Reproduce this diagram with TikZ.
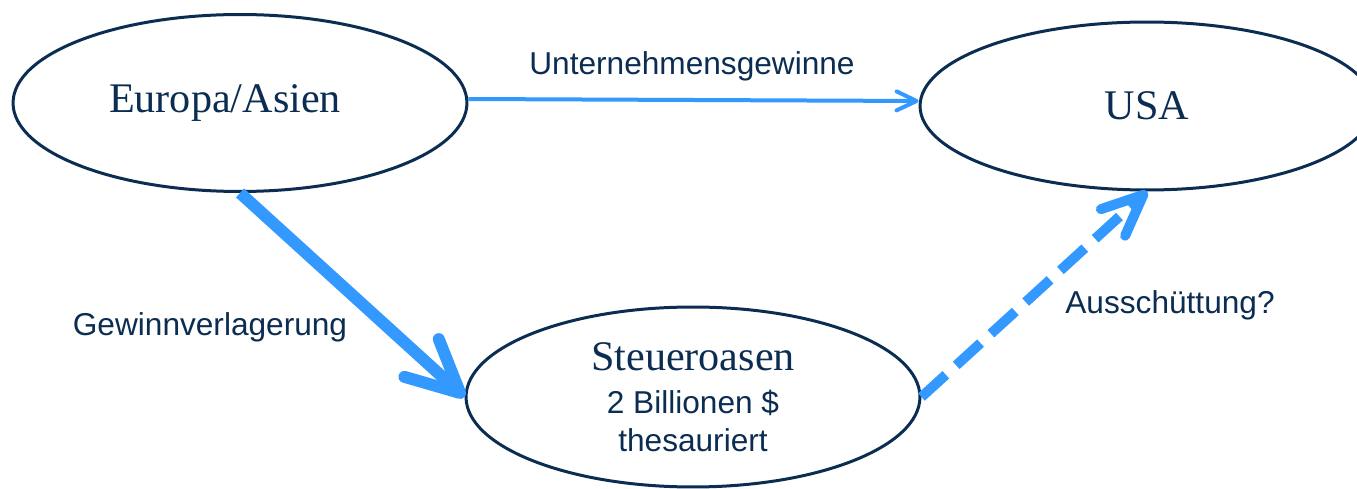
\documentclass[tikz,border=0pt]{standalone}
\usepackage{fontspec}
\setmainfont{Liberation Serif}
\setsansfont{Liberation Sans}
\usetikzlibrary{shapes.geometric,arrows.meta}

\definecolor{navy}{HTML}{0B2D52}
\definecolor{flowblue}{HTML}{3399FF}

\tikzset{
  region/.style={ellipse, draw=navy, line width=0.06cm, inner sep=0pt,
    minimum width=9.08cm, text=navy, font=\fontsize{24}{28}\selectfont},
  flowlabel/.style={text=navy, font=\sffamily\fontsize{18}{21.6}\selectfont},
  flow/.style={draw=flowblue}
}

\begin{document}
\begin{tikzpicture}[x=0.02cm, y=-0.02cm]
% page frame, same size as the original picture
\useasboundingbox (0,0) rectangle (1357,489);

% the three regions
\node[region, minimum height=3.54cm] (eu) at (240,103) {Europa/Asien\hspace*{0.6cm}};
\node[region, minimum height=3.36cm] (usa) at (1147,106) {USA};
\node[region, minimum height=3.6cm, align=center,
  font=\sffamily\fontsize{18}{21.6}\selectfont] (oase) at (693,397)
  {{\rmfamily\fontsize{24}{28}\selectfont Steueroasen}\\[3pt]
   2 Billionen \$\\
   thesauriert};

% flows between the regions
\draw[flow, line width=0.08cm, -{Straight Barb[length=0.4cm, width=0.38cm, round]}]
  ([yshift=0.08cm]eu.east) -- ([yshift=0.1cm]usa.west);
\draw[flow, line width=0.24cm, -{Straight Barb[length=1.04cm, width=1.02cm, round]}]
  (eu.south) -- (oase.west);
\draw[flow, line width=0.2cm, dash pattern=on 0.66cm off 0.28cm,
  -{Straight Barb[length=0.82cm, width=0.72cm, round]}]
  (oase.east) -- (usa.south);

% labels of the flows
\node[flowlabel] (lblgewinne) at (692,66) {Unternehmensgewinne};
\node[flowlabel] (lblverlag) at (210,327) {Gewinnverlagerung};
\node[flowlabel] (lblaus) at (1170,305) {Ausschüttung?};
\end{tikzpicture}
\end{document}
